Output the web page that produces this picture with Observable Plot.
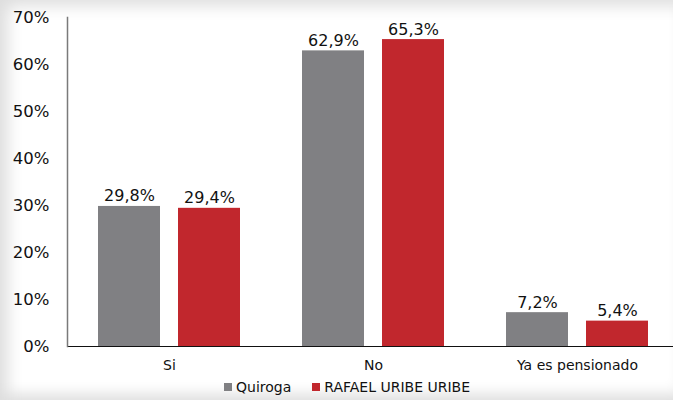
<!DOCTYPE html>
<html>
<head>
<meta charset="utf-8">
<script src="https://cdn.jsdelivr.net/npm/d3@7"></script>
<script src="https://cdn.jsdelivr.net/npm/@observablehq/plot@0.6"></script>
<style>
  html, body { margin: 0; padding: 0; background: #e4e4e4; }
  #wrap {
    position: relative; width: 673px; height: 400px; overflow: hidden;
    background: #ffffff;
    box-shadow: inset 16px 14px 16px -8px #dedede, inset 0 -14px 14px -8px #dedede;
    font-family: "DejaVu Sans", sans-serif;
  }
  #chart { position: absolute; left: 0; top: 0; }
  #legend { position: absolute; left: 224px; top: 378px; height: 18px; display: flex; align-items: center; font-size: 14px; color: #111; white-space: nowrap; }
  #legend .sw { display: inline-block; width: 8px; height: 8px; margin-right: 4px; }
  #legend .item { display: flex; align-items: center; margin-right: 21px; }
</style>
</head>
<body>
<div id="wrap">
  <div id="chart"></div>
  <div id="legend"></div>
</div>
<script>
const categories = ["Si", "No", "Ya es pensionado"];
const seriesNames = ["Quiroga", "RAFAEL URIBE URIBE"];
const quiroga = [29.8, 62.9, 7.2];
const rafael = [29.4, 65.3, 5.4];
const yTicks = [0, 10, 20, 30, 40, 50, 60, 70];
const colors = ["#808083", "#c1272d"];

const qData = categories.map((c, i) => ({cat: c, v: quiroga[i]}));
const rData = categories.map((c, i) => ({cat: c, v: rafael[i]}));
const fmt = d => d.v.toFixed(1).replace(".", ",") + "%";

const chart = Plot.plot({
  width: 673,
  height: 375,
  marginTop: 17,
  marginBottom: 29,
  marginLeft: 67,
  marginRight: 0,
  style: {fontFamily: "DejaVu Sans, sans-serif", background: "transparent", color: "#111"},
  x: {domain: categories, range: [67, 679], padding: 0, label: null},
  y: {domain: [0, 70], label: null},
  marks: [
    Plot.barY(qData, {x: "cat", y: "v", fill: colors[0], insetLeft: 31, insetRight: 111}),
    Plot.barY(rData, {x: "cat", y: "v", fill: colors[1], insetLeft: 111, insetRight: 31}),
    Plot.text(qData, {x: "cat", y: "v", text: fmt, dx: -40, dy: -5, lineAnchor: "bottom", fontSize: 16, fill: "#111"}),
    Plot.text(rData, {x: "cat", y: "v", text: fmt, dx: 40, dy: -5, lineAnchor: "bottom", fontSize: 16, fill: "#111"}),
    Plot.axisY({ticks: yTicks, tickSize: 0, tickPadding: 18, tickFormat: d => d + "%", fontSize: 16.5, label: null}),
    Plot.axisX({tickSize: 0, tickPadding: 14, fontSize: 14, label: null}),
    Plot.ruleY([0], {stroke: "#111", strokeWidth: 1.2}),
    Plot.frame({anchor: "left", stroke: "#7a7a7a", strokeWidth: 1.5})
  ]
});
document.getElementById("chart").appendChild(chart);

const legend = document.getElementById("legend");
seriesNames.forEach((name, i) => {
  const item = document.createElement("span");
  item.className = "item";
  const sw = document.createElement("span");
  sw.className = "sw";
  sw.style.background = colors[i];
  item.appendChild(sw);
  item.appendChild(document.createTextNode(name));
  legend.appendChild(item);
});
</script>
</body>
</html>
